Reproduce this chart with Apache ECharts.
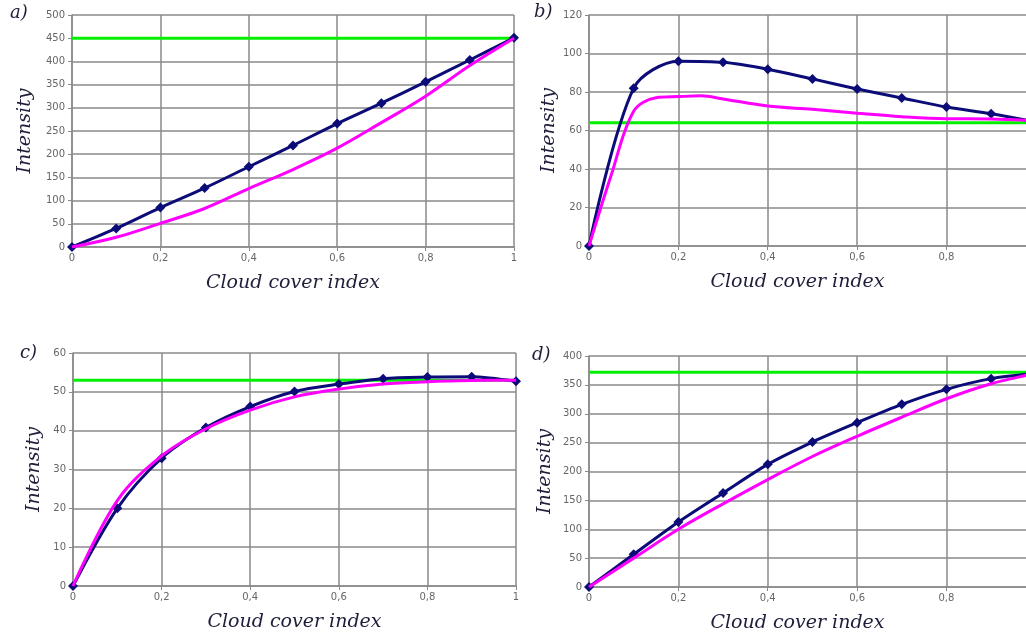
<!DOCTYPE html>
<html>
<head>
<meta charset="utf-8">
<script src="https://cdn.jsdelivr.net/npm/echarts@6/dist/echarts.min.js"></script>
<style>
    html, body { margin: 0; padding: 0; background: #fff; }
    #main { width: 1026px; height: 634px; }
</style>
</head>
<body>
<div id="main"></div>
<script>
// x positions (cloud cover index)
let cloudIndex = [0, 0.1, 0.2, 0.3, 0.4, 0.5, 0.6, 0.7, 0.8, 0.9, 1];
let cloudIndexB = [0, 0.05, 0.1, 0.15, 0.2, 0.25, 0.3, 0.4, 0.5, 0.6, 0.7, 0.8, 0.9, 1];
let limitIndex = [0, 1];

// a)
let aModel = [0, 40, 85, 127, 173, 219, 266, 310, 356, 403, 451];
let aFit = [0, 21, 51, 83, 126, 167, 213, 268, 325, 391, 450];
let aLimit = [450, 450];
// b)
let bModel = [0, 82, 96, 95.4, 91.8, 86.8, 81.6, 76.9, 72.2, 68.7, 64.5];
let bFit = [0, 37, 70, 77, 77.6, 78, 76.4, 72.7, 71, 69, 67.2, 66.1, 66, 65];
let bLimit = [64, 64];
// c)
let cModel = [0, 20, 32.9, 40.8, 46.2, 50.1, 52, 53.4, 53.8, 53.9, 52.7];
let cFit = [0, 22, 33.5, 40.5, 45.3, 48.7, 50.7, 52, 52.6, 52.9, 53];
let cLimit = [53, 53];
// d)
let dModel = [0, 56.6, 112.6, 162.8, 212.4, 251, 284.6, 316.3, 342.3, 360.8, 370];
let dFit = [0, 50, 100, 144, 186, 226, 261, 294, 326, 352, 370];
let dLimit = [372, 372];

let panelNames = ["a)", "b)", "c)", "d)"];
let yMax = [500, 120, 60, 400];
let yStep = [50, 20, 10, 50];
let xMax = [1, 0.978, 1, 0.978];

let gridPos = [
    {left: 72, right: 512, top: 15, bottom: 387},
    {left: 589, right: 0, top: 15, bottom: 388},
    {left: 73, right: 510, top: 353, bottom: 48},
    {left: 589, right: 0, top: 356, bottom: 47}
];
let yNameGap = [37, 29, 29, 34];
let labelPos = [[10, 4], [534, 3], [20, 344], [532, 346]];

let gridColor = "#8a8a8a";
let textColor = "#1e1e3a";
let labelFont = "DejaVu Serif";

function pairs(xs, ys) {
    return ys.map((y, i) => [xs[i], y]);
}

let grids = [], xAxes = [], yAxes = [], series = [], graphics = [];
gridPos.forEach((g, i) => {
    grids.push(Object.assign({containLabel: false, show: false}, g));
    xAxes.push({
        type: "value",
        gridIndex: i,
        min: 0,
        max: xMax[i],
        interval: 0.2,
        name: "Cloud cover index",
        nameLocation: "middle",
        nameGap: 27,
        nameTextStyle: {
            fontFamily: labelFont, fontStyle: "italic", fontSize: 19, color: textColor,
            padding: xMax[i] < 1 ? [0, 20, 0, 0] : 0
        },
        axisLine: {show: true, lineStyle: {color: gridColor, width: 1.5}},
        axisTick: {show: true, length: 4, lineStyle: {color: gridColor}},
        axisLabel: {
            fontFamily: "DejaVu Sans", fontSize: 10, color: "#666", margin: 6,
            showMaxLabel: xMax[i] >= 1,
            formatter: v => String(Math.round(v * 10) / 10).replace(".", ",")
        },
        splitLine: {show: true, showMaxLine: xMax[i] >= 1, lineStyle: {color: gridColor, width: 1.5}}
    });
    yAxes.push({
        type: "value",
        gridIndex: i,
        min: 0,
        max: yMax[i],
        interval: yStep[i],
        name: "Intensity",
        nameLocation: "middle",
        nameGap: yNameGap[i],
        nameTextStyle: {fontFamily: labelFont, fontStyle: "italic", fontSize: 19, color: textColor},
        axisLine: {show: true, lineStyle: {color: gridColor, width: 1.5}},
        axisTick: {show: true, length: 4, lineStyle: {color: gridColor}},
        axisLabel: {fontFamily: "DejaVu Sans", fontSize: 10, color: "#666", margin: 7},
        splitLine: {show: true, lineStyle: {color: gridColor, width: 1.5}}
    });
    graphics.push({
        type: "text",
        left: labelPos[i][0],
        top: labelPos[i][1],
        style: {text: panelNames[i], font: "italic 18px " + labelFont, fill: textColor}
    });
});

let modelData = [aModel, bModel, cModel, dModel];
let fitData = [aFit, bFit, cFit, dFit];
let fitX = [cloudIndex, cloudIndexB, cloudIndex, cloudIndex];
let limitData = [aLimit, bLimit, cLimit, dLimit];

for (let i = 0; i < 4; i++) {
    series.push({
        type: "line",
        xAxisIndex: i, yAxisIndex: i,
        data: pairs(cloudIndex, modelData[i]),
        smooth: 0.3,
        symbol: "diamond",
        symbolSize: 10,
        itemStyle: {color: "#0c0c78"},
        lineStyle: {color: "#0c0c78", width: 3},
        z: 3
    });
    series.push({
        type: "line",
        xAxisIndex: i, yAxisIndex: i,
        data: pairs(fitX[i], fitData[i]),
        smooth: 0.35,
        showSymbol: false,
        lineStyle: {color: "#ff00ff", width: 3},
        z: 4
    });
    series.push({
        type: "line",
        xAxisIndex: i, yAxisIndex: i,
        data: pairs(limitIndex, limitData[i]),
        showSymbol: false,
        lineStyle: {color: "#00f000", width: 3},
        z: 2
    });
}

let chart = echarts.init(document.getElementById("main"));
chart.setOption({
    backgroundColor: "#fff",
    animation: false,
    grid: grids,
    xAxis: xAxes,
    yAxis: yAxes,
    series: series,
    graphic: graphics
});
</script>
</body>
</html>
